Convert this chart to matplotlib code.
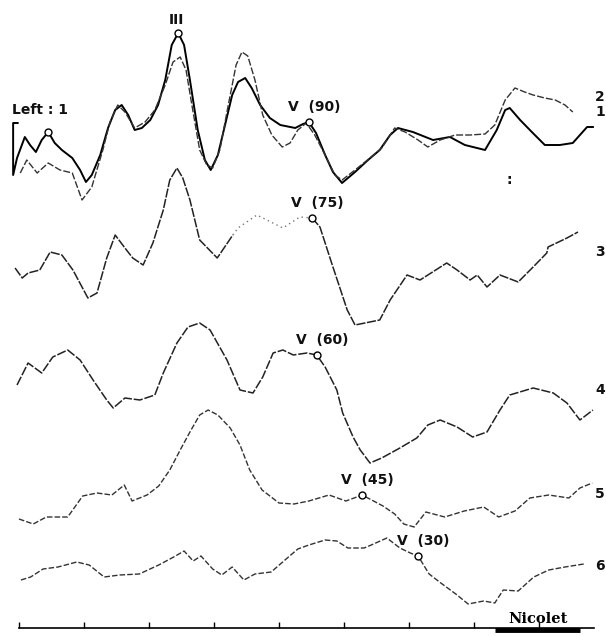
import numpy as np
import matplotlib.pyplot as plt

# ABR traces, latency in ms, amplitude in arbitrary units (relative to each trace baseline)
t1 = [-0.02, -0.09, -0.09, -0.03, 0.09, 0.17, 0.26, 0.35, 0.45, 0.55, 0.66, 0.82, 0.94, 1.03, 1.12,
      1.25, 1.37, 1.48, 1.58, 1.68, 1.78, 1.89, 2.02, 2.14, 2.25, 2.35, 2.45, 2.54, 2.63, 2.75, 2.86,
      2.95, 3.06, 3.17, 3.28, 3.37, 3.48, 3.58, 3.71, 3.86, 4.02, 4.25, 4.37, 4.46, 4.57, 4.71, 4.83,
      4.97, 5.17, 5.37, 5.55, 5.71, 5.83, 6.06, 6.37, 6.63, 6.86, 7.17, 7.35, 7.48, 7.55, 7.71, 7.89,
      8.09, 8.32, 8.52, 8.74, 8.83]
a1 = [1.7, 1.7, -3.5, -1.8, 0.3, -0.5, -1.2, 0.0, 0.8, -0.3, -1.0, -1.8, -3.0, -4.2, -3.5,
      -1.5, 1.2, 3.0, 3.5, 2.5, 1.0, 1.2, 2.0, 3.5, 6.0, 9.5, 10.7, 9.5, 6.0, 1.0, -2.0,
      -3.0, -1.5, 1.5, 4.5, 5.8, 6.2, 5.2, 3.5, 2.2, 1.5, 1.2, 1.6, 1.8, 0.7, -1.5, -3.2,
      -4.3, -3.2, -2.0, -1.0, 0.5, 1.2, 0.8, 0.0, 0.3, -0.5, -1.0, 1.0, 3.0, 3.2, 2.0, 0.8,
      -0.5, -0.5, -0.3, 1.3, 1.3]

t2 = [0.02, 0.12, 0.28, 0.45, 0.63, 0.82, 0.97, 1.12, 1.29, 1.40, 1.52, 1.63, 1.78, 1.94, 2.09,
      2.25, 2.37, 2.48, 2.57, 2.66, 2.78, 2.89, 2.98, 3.09, 3.22, 3.34, 3.43, 3.52, 3.63, 3.75,
      3.89, 4.05, 4.17, 4.29, 4.42, 4.55, 4.71, 4.86, 4.97, 5.17, 5.40, 5.58, 5.78, 5.94, 6.14,
      6.29, 6.48, 6.71, 6.94, 7.17, 7.32, 7.48, 7.63, 7.78, 7.91, 8.09, 8.25, 8.40, 8.52]
a2 = [-3.3, -2.0, -3.3, -2.3, -3.0, -3.3, -6.0, -4.7, -1.0, 1.8, 3.5, 2.8, 1.2, 1.8, 3.0,
      5.5, 7.8, 8.3, 7.0, 3.5, -1.0, -2.5, -2.8, -1.0, 3.5, 7.5, 8.8, 8.4, 6.0, 2.5,
      0.5, -0.7, -0.3, 1.0, 1.7, 0.5, -1.5, -3.5, -4.0, -3.0, -1.8, -0.8, 1.2, 0.8, 0.0,
      -0.7, 0.0, 0.5, 0.5, 0.6, 1.5, 4.0, 5.2, 4.8, 4.5, 4.2, 4.0, 3.5, 2.8]

t3 = [-0.06, 0.05, 0.14, 0.32, 0.48, 0.66, 0.83, 1.06, 1.20, 1.35, 1.48, 1.63, 1.75, 1.91, 2.06,
      2.22, 2.32, 2.43, 2.52, 2.63, 2.78, 3.05, 3.29, 3.37, 3.66, 4.06, 4.32, 4.51, 4.63, 4.83,
      5.05, 5.17, 5.55, 5.71, 5.97, 6.17, 6.58, 6.74, 6.94, 7.05, 7.20, 7.40, 7.68, 7.91, 8.12,
      8.14, 8.43, 8.60]
a3 = [-0.8, -1.8, -1.3, -1.0, 0.8, 0.5, -1.0, -3.8, -3.3, 0.2, 2.5, 1.2, 0.2, -0.5, 1.7,
      5.0, 8.0, 9.2, 8.2, 6.0, 2.0, 0.2, 2.5, 3.2, 4.5, 3.2, 4.3, 4.2, 3.3, -0.7,
      -5.0, -6.5, -6.0, -4.0, -1.5, -2.0, -0.3, -1.0, -2.0, -1.5, -2.7, -1.5, -2.2, -0.7, 0.7,
      1.3, 2.2, 2.8]

t4 = [-0.03, 0.14, 0.35, 0.52, 0.75, 0.94, 1.14, 1.35, 1.45, 1.63, 1.86, 2.09, 2.22, 2.43, 2.60,
      2.78, 2.94, 3.20, 3.40, 3.60, 3.75, 3.91, 4.06, 4.22, 4.43, 4.58, 4.71, 4.89, 4.98, 5.14,
      5.25, 5.40, 5.58, 5.86, 6.12, 6.29, 6.48, 6.74, 6.98, 7.20, 7.40, 7.55, 7.91, 8.22, 8.43,
      8.63, 8.83]
a4 = [-0.5, 1.7, 0.7, 2.3, 3.0, 2.0, 0.0, -2.0, -2.8, -1.8, -2.0, -1.5, 0.7, 3.7, 5.3,
      5.7, 5.0, 2.0, -1.0, -1.3, 0.3, 2.7, 3.0, 2.5, 2.7, 2.5, 1.3, -1.0, -3.3, -5.7,
      -7.0, -8.3, -7.8, -6.8, -5.8, -4.5, -4.0, -4.7, -5.7, -5.2, -3.0, -1.5, -0.8, -1.3, -2.3,
      -4.0, -3.0]

t5 = [0.00, 0.22, 0.42, 0.75, 0.98, 1.20, 1.43, 1.62, 1.74, 1.97, 2.15, 2.32, 2.48, 2.63, 2.78,
      2.91, 3.06, 3.25, 3.40, 3.55, 3.74, 4.00, 4.23, 4.46, 4.77, 5.03, 5.28, 5.60, 5.78, 5.92,
      6.08, 6.26, 6.55, 6.85, 7.15, 7.38, 7.63, 7.86, 8.15, 8.46, 8.63, 8.82]
a5 = [-1.9, -2.4, -1.7, -1.7, 0.4, 0.7, 0.5, 1.5, -0.1, 0.5, 1.4, 3.0, 5.0, 6.8, 8.5,
      9.0, 8.5, 7.2, 5.5, 3.0, 1.0, -0.3, -0.4, -0.1, 0.5, -0.1, 0.5, -0.6, -1.4, -2.4,
      -2.7, -1.2, -1.7, -1.1, -0.7, -1.7, -1.1, 0.2, 0.5, 0.2, 1.2, 1.7]

t6 = [0.03, 0.18, 0.37, 0.60, 0.89, 1.08, 1.31, 1.55, 1.85, 2.15, 2.38, 2.54, 2.68, 2.80, 2.98,
      3.12, 3.28, 3.46, 3.63, 3.88, 4.11, 4.29, 4.46, 4.71, 4.89, 5.06, 5.31, 5.42, 5.66, 5.86,
      6.02, 6.14, 6.31, 6.49, 6.72, 6.91, 7.15, 7.32, 7.45, 7.68, 7.92, 8.15, 8.40, 8.69]
a6 = [-1.0, -0.7, 0.1, 0.3, 0.8, 0.5, -0.7, -0.5, -0.4, 0.5, 1.3, 1.9, 0.9, 1.4, 0.1,
      -0.5, 0.3, -1.0, -0.4, -0.2, 1.1, 2.1, 2.5, 3.0, 2.9, 2.2, 2.2, 2.5, 3.2, 2.2,
      1.7, 1.4, -0.4, -1.3, -2.4, -3.4, -3.1, -3.3, -2.0, -2.1, -0.7, 0.0, 0.3, 0.6]

# wave V latency and stimulus level (dB) for traces 1, 3, 4, 5, 6
v_lat = [4.46, 4.51, 4.58, 5.28, 6.14]
v_level = [90, 75, 60, 45, 30]
wave_I = 0.45
wave_III = 2.45

trace_names = ['1', '2', '3', '4', '5', '6']
label_amp = [2.8, 4.3, 0.8, -1.0, 0.6, 0.4]

# layout
base = [49.6, 49.6, 37.6, 25.6, 13.6, 6.6]
traces = [(t1, a1), (t2, a2), (t3, a3), (t4, a4), (t5, a5), (t6, a6)]
styles = [dict(color='black', lw=1.4, ls='-'),
          dict(color='#333333', lw=1.0, ls=(0, (5, 1.5))),
          dict(color='#222222', lw=1.1, ls=(0, (6, 1))),
          dict(color='#222222', lw=1.1, ls=(0, (6, 1.2))),
          dict(color='#333333', lw=1.0, ls=(0, (4, 1.5))),
          dict(color='#333333', lw=1.0, ls=(0, (4, 1.5)))]

font = dict(family='DejaVu Sans', fontweight='bold', fontsize=10, color='#111111')

fig = plt.figure(figsize=(6.06, 6.36), dpi=100)
ax = fig.add_axes([0, 0, 1, 1])
ax.set_xlim(-0.292, 9.031)
ax.set_ylim(0, 63.6)

for k, ((t, a), b, st) in enumerate(zip(traces, base, styles)):
    t = np.array(t)
    y = np.array(a) + b
    if k == 2:
        # faint stretch before wave V on the 75 dB trace
        faint = (t >= 3.29) & (t <= 4.51)
        ax.plot(np.where(t <= 3.29, t, np.nan), y, **st)
        ax.plot(np.where(faint, t, np.nan), y, color='#777777', lw=1.0, ls=(0, (1, 2.5)))
        ax.plot(np.where(t >= 4.51, t, np.nan), y, **st)
    else:
        ax.plot(t, y, **st)

for name, la, b in zip(trace_names, label_amp, base):
    ax.text(9.015, b + la, name, ha='right', va='center', **font)

# peak markers
circ = dict(marker='o', ms=5, mfc='white', mec='black', mew=1.0, ls='none', zorder=5)
for lat in [wave_I, wave_III]:
    ax.plot(lat, np.interp(lat, t1, a1) + base[0], **circ)
ax.annotate('III', (wave_III, np.interp(wave_III, t1, a1) + base[0]),
            xytext=(-1, 4), textcoords='offset points', ha='center', va='bottom', **font)
ax.text(-0.10, base[0] + 2.3, 'Left : 1', ha='left', va='bottom', **font)

v_traces = [0, 2, 3, 4, 5]
for k, lat, lev in zip(v_traces, v_lat, v_level):
    t, a = traces[k]
    y = np.interp(lat, t, a) + base[k]
    ax.plot(lat, y, **circ)
    ax.annotate('V  (%d)' % lev, (lat, y), xytext=(4, 6), textcoords='offset points',
                ha='center', va='bottom', **font)

# cursor dots
ax.text(7.55, base[0] - 4.0, ':', ha='center', va='center', **font)

# time axis
ax.spines[['top', 'left', 'right']].set_visible(False)
ax.spines['bottom'].set_position(('data', 0.8))
ax.spines['bottom'].set_bounds(0, 8.85)
ax.spines['bottom'].set_linewidth(1.2)
ax.set_xticks(np.arange(0, 9))
ax.set_yticks([])
ax.tick_params(axis='x', direction='in', length=4, width=1.0, labelbottom=False)
ax.plot([7.33, 8.63], [0.6, 0.6], color='black', lw=3.5, solid_capstyle='butt')
ax.text(7.98, 1.7, 'Nicolet', ha='center', va='center', family='DejaVu Serif',
        fontweight='bold', fontsize=10.5)

fig.savefig('out.png', dpi=100)
